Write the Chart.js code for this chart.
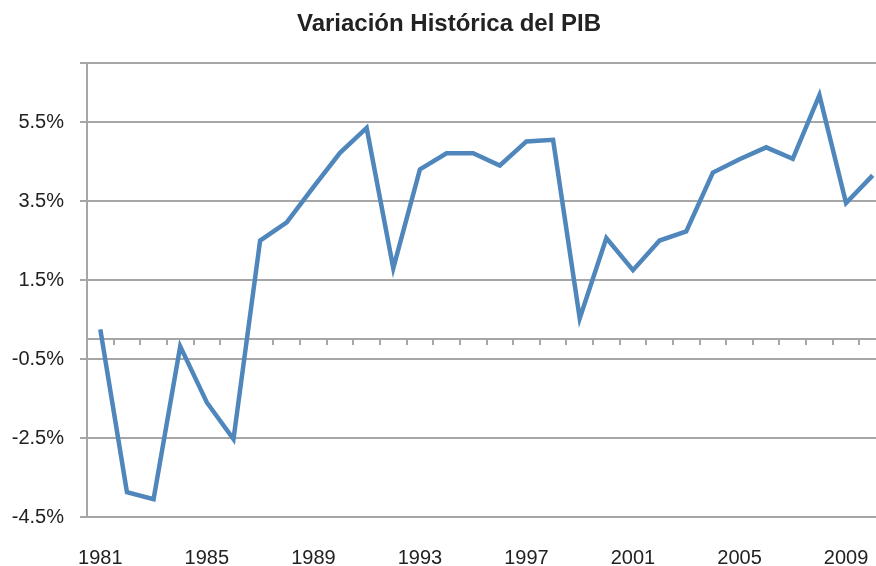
<!DOCTYPE html>
<html>
<head>
<meta charset="utf-8">
<script src="https://cdn.jsdelivr.net/npm/chart.js"></script>
<style>
  html, body { margin: 0; padding: 0; background: #fff; overflow: hidden; }
  canvas { display: block; }
</style>
</head>
<body>
<canvas id="pib-chart" width="890" height="566"></canvas>
<script>
// Data
const years = ['1981', '1982', '1983', '1984', '1985', '1986', '1987', '1988', '1989', '1990',
               '1991', '1992', '1993', '1994', '1995', '1996', '1997', '1998', '1999', '2000',
               '2001', '2002', '2003', '2004', '2005', '2006', '2007', '2008', '2009', '2010'];
const pibVariation = [0.25, -3.87, -4.05, -0.18, -1.6, -2.53, 2.5, 2.96, 3.85, 4.72,
                      5.35, 1.8, 4.3, 4.71, 4.71, 4.4, 5.01, 5.05, 0.53, 2.56,
                      1.75, 2.5, 2.73, 4.22, 4.56, 4.86, 4.57, 6.18, 3.45, 4.15];
const yTickValues = [-4.5, -2.5, -0.5, 1.5, 3.5, 5.5, 7];

const gridColor = '#a6a6a9';
const textColor = '#222';
const fontFamily = '"Liberation Sans", Arial, sans-serif';

const ctx = document.getElementById('pib-chart').getContext('2d');

// canvas is a bit wider than the window: the original picture is cropped on the right
new Chart(ctx, {
    type: 'line',
    data: {
        labels: years,
        datasets: [{
            label: 'PIB',
            data: pibVariation,
            borderColor: '#4f86bb',
            borderWidth: 4.5,
            pointRadius: 0,
            tension: 0,
            fill: false
        }]
    },
    options: {
        responsive: false,
        animation: false,
        devicePixelRatio: 1,
        layout: { padding: { left: 12, right: 4, top: 0, bottom: 0 } },
        plugins: {
            legend: { display: false },
            tooltip: { enabled: false },
            title: {
                display: true,
                text: 'Variación Histórica del PIB',
                color: textColor,
                font: { family: fontFamily, size: 24, weight: 'bold' },
                padding: { top: 10, bottom: 24 }
            }
        },
        scales: {
            x: {
                type: 'category',
                offset: true,
                // hidden tick length pushes the year labels down without adding side padding
                grid: { display: false, drawTicks: true, tickLength: 29 },
                border: { display: false },
                ticks: {
                    autoSkip: false,
                    maxRotation: 0,
                    padding: 0,
                    color: textColor,
                    font: { family: fontFamily, size: 20 },
                    callback: (value, index) => (index % 4 === 0 ? years[index] : '')
                },
                afterFit: (scale) => { scale.height = 49; }
            },
            // axis line drawn through zero, with tick marks between the years
            xZero: {
                type: 'category',
                position: { y: 0 },
                offset: true,
                ticks: { display: false },
                grid: {
                    display: true,
                    offset: true,
                    drawOnChartArea: false,
                    drawTicks: true,
                    tickLength: 5,
                    color: gridColor,
                    lineWidth: 2
                },
                border: { display: true, color: gridColor, width: 2 }
            },
            y: {
                min: -4.5,
                max: 7,
                afterBuildTicks: (scale) => {
                    scale.ticks = yTickValues.map(v => ({ value: v }));
                },
                afterFit: (scale) => { scale.width = 75; },
                grid: {
                    color: gridColor,
                    lineWidth: 2,
                    drawTicks: true,
                    tickLength: 7
                },
                border: { display: true, color: gridColor, width: 2 },
                ticks: {
                    padding: 16,
                    color: textColor,
                    font: { family: fontFamily, size: 20 },
                    callback: (value) => (value === 7 ? '' : value.toFixed(1) + '%')
                }
            }
        }
    }
});
</script>
</body>
</html>
